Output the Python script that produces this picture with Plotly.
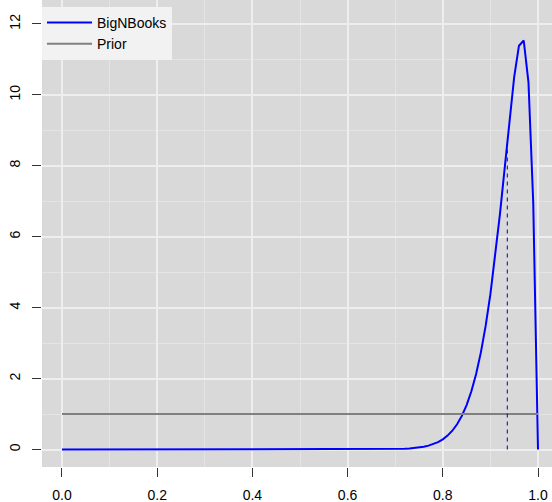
import plotly.graph_objects as go

# grid of p values (0.00 .. 1.00 by 0.01)
p_grid = [i / 100 for i in range(101)]

# BigNBooks posterior density
density_low = [0.0] * 65  # p = 0.00 .. 0.64 (flat at zero)
density_high = [0.001, 0.002, 0.003, 0.004, 0.006,            # 0.65 .. 0.69
                0.009, 0.013, 0.019, 0.027, 0.039,            # 0.70 .. 0.74
                0.055, 0.078, 0.109, 0.152, 0.210,            # 0.75 .. 0.79
                0.288, 0.392, 0.530, 0.712, 0.948,            # 0.80 .. 0.84
                1.253, 1.641, 2.131, 2.740, 3.485,            # 0.85 .. 0.89
                4.380, 5.431, 6.628, 7.936, 9.276,            # 0.90 .. 0.94
                10.507, 11.387, 11.534, 10.353, 6.949,        # 0.95 .. 0.99
                0.0]                                          # 1.00
density = density_low + density_high

# flat prior
prior_x = [0.0, 1.0]
prior_y = [1.0, 1.0]

# dashed marker (posterior mean)
mean_x = [0.9355, 0.9355]
mean_y = [0.0, 8.6]

x_ticks = [0.0, 0.2, 0.4, 0.6, 0.8, 1.0]
x_labels = ["0.0", "0.2", "0.4", "0.6", "0.8", "1.0"]
y_ticks = [0, 2, 4, 6, 8, 10, 12]
y_labels = ["0", "2", "4", "6", "8", "10", "12"]

font = "Liberation Sans, Arial, Helvetica, sans-serif"

fig = go.Figure()
fig.add_trace(go.Scatter(x=p_grid, y=density, mode="lines", name="BigNBooks",
                         line=dict(color="#0000FF", width=2)))
fig.add_trace(go.Scatter(x=prior_x, y=prior_y, mode="lines", name="Prior",
                         line=dict(color="#808080", width=2)))
fig.add_trace(go.Scatter(x=mean_x, y=mean_y, mode="lines", showlegend=False,
                         line=dict(color="#0000CC", width=1, dash="4px,4px")))

fig.update_layout(
    width=552, height=502,
    margin=dict(l=42, r=0, t=0, b=35),
    paper_bgcolor="white",
    plot_bgcolor="#D9D9D9",
    font=dict(family=font, size=14, color="black"),
    showlegend=True,
    legend=dict(x=0, y=0.985, xanchor="left", yanchor="top",
                bgcolor="#F2F2F2", borderwidth=0,
                font=dict(family=font, size=14, color="black"),
                tracegroupgap=0, itemwidth=45, entrywidth=105),
)
fig.update_xaxes(
    range=[-0.042, 1.0294], automargin=False,
    tickmode="array", tickvals=x_ticks, ticktext=x_labels,
    ticks="outside", ticklen=9, tickwidth=1, tickcolor="#333333",
    ticklabelstandoff=6,
    showgrid=True, gridcolor="#EEEEEE", gridwidth=2,
    minor=dict(dtick=0.1, showgrid=True, gridcolor="#E4E4E4", gridwidth=1, ticks=""),
    zeroline=False, showline=False,
)
fig.update_yaxes(
    range=[-0.493, 12.676], automargin=False,
    tickmode="array", tickvals=y_ticks, ticktext=y_labels,
    tickangle=-90,
    ticks="outside", ticklen=9, tickwidth=1, tickcolor="#333333",
    ticklabelstandoff=6,
    showgrid=True, gridcolor="#EEEEEE", gridwidth=2,
    minor=dict(dtick=1, showgrid=True, gridcolor="#E4E4E4", gridwidth=1, ticks=""),
    zeroline=False, showline=False,
)

fig.write_html("out.html",
               config={"displayModeBar": False},
               post_script="document.body.style.margin='0';document.body.style.overflow='hidden';")
